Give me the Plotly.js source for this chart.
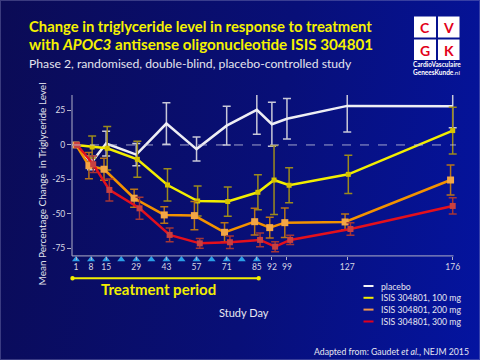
<!DOCTYPE html>
<html>
<head>
<meta charset="utf-8">
<script src="https://cdn.plot.ly/plotly-3.0.1.min.js"></script>
<style>
  html, body { margin: 0; padding: 0; }
  #wrap { position: relative; width: 480px; height: 360px;
    background: linear-gradient(100deg, #0b0b55 0%, #080f78 55%, #0414a0 100%); }
  #chart { position: absolute; left: 0; top: 0; width: 480px; height: 360px; }
  #frame { position: absolute; left: 0; top: 0; width: 478px; height: 358px;
    border: 1px solid rgba(150,150,200,0.35); pointer-events: none; }
</style>
</head>
<body>
<div id="wrap"><div id="chart"></div><div id="frame"></div></div>
<script>
// ---- data ----
const tickDays   = [1, 8, 15, 29, 43, 57, 71, 85, 92, 99, 127, 176];
const yTicks     = [25, 0, -25, -50, -75];
const dosingDays = [1, 8, 15, 22, 29, 36, 43, 50, 57, 64, 71, 78, 85];

const placeboDays = [1, 8, 15, 29, 43, 57, 71, 85, 92, 99, 127, 176];
const placeboMean = [0, -13, 1, -7, 15.5, -3, 14, 25.5, 15, 19, 28.3, 28];
const placeboErr  = [0, 5, 9, 8, 15, 8.7, 14, 17.8, 16, 14.7, 19, 15.5];

const dose100Days = [1, 8.5, 15.5, 29.5, 43.5, 57.5, 71.5, 85.5, 93, 100, 127.5, 176];
const dose100Mean = [0, -1.5, -2.4, -10.4, -29, -40.6, -41, -34.3, -25.4, -29.2, -21.3, 10.4];
const dose100Err  = [0, 8, 15.7, 13, 11.7, 10.9, 10.6, 12.7, 25, 12.7, 13.8, 17];

const dose200Days = [1, 7, 14, 28, 42, 56, 70, 84, 91, 98, 126, 175];
const dose200Mean = [0, -15, -17.6, -38.6, -50.7, -51.2, -63.3, -55.6, -59.9, -56.3, -55.8, -25.4];
const dose200Err  = [0, 9.5, 8, 6.5, 6, 10.3, 7, 9.7, 7.5, 10.7, 5.8, 10.9];

const dose300Days = [1.5, 9, 16.5, 30.5, 44.5, 58.5, 72.5, 86.5, 93.5, 100.5, 128.5, 176];
const dose300Mean = [0, -14, -32.6, -45.9, -65.2, -71.3, -70.5, -68.8, -73.7, -68.8, -60.9, -44.2];
const dose300Err  = [0, 6, 8, 8, 5, 3.5, 4.5, 5, 3.6, 3.4, 4.5, 5.9];

const seriesNames = ['placebo', 'ISIS 304801, 100 mg', 'ISIS 304801, 200 mg', 'ISIS 304801, 300 mg'];

// ---- layout geometry ----
const ML = 72, MR = 19, MT = 95, MB = 100, W = 480, H = 360;
const PW = W - ML - MR, PH = H - MT - MB;
const xp = px => (px - ML) / PW;
const yp = py => (H - MB - py) / PH;
const Y_TOP = 36.2, Y_AXIS = -80.4, Y_BOTTOM = Y_TOP - PH / 1.38;

const FONT = 'Lato, "Open Sans", sans-serif';

function series(x, y, err, name, lineColor, errColor, marker) {
  const t = {
    type: 'scatter', mode: marker ? 'lines+markers' : 'lines',
    x: x, y: y, name: name, showlegend: false, hoverinfo: 'skip',
    line: { color: lineColor, width: 2.5 },
    error_y: { type: 'data', array: err, visible: true, color: errColor, thickness: 1.5, width: 4 }
  };
  if (marker) t.marker = marker;
  return t;
}

const traces = [
  series(placeboDays, placeboMean, placeboErr, seriesNames[0], '#eeeef4', '#c8c8d8', null),
  series(dose100Days, dose100Mean, dose100Err, seriesNames[1], '#f2ee00', '#9c8a1c',
         { symbol: 'square', size: 5, color: '#d8c400' }),
  series(dose200Days, dose200Mean, dose200Err, seriesNames[2], '#f39200', '#b87418',
         { symbol: 'square', size: 7, color: '#f3a646' }),
  series(dose300Days, dose300Mean, dose300Err, seriesNames[3], '#e4101c', '#a43636',
         { symbol: 'square', size: 6, color: '#c84040' }),
  { type: 'scatter', mode: 'markers', x: dosingDays, y: dosingDays.map(() => -83),
    cliponaxis: false, showlegend: false, hoverinfo: 'skip',
    marker: { symbol: 'triangle-up', size: 7, color: '#2c9ee6' } }
];

const shapes = [];
const annotations = [];
function ann(px, py, text, font, opts) {
  annotations.push(Object.assign({ xref: 'paper', yref: 'paper', x: xp(px), y: yp(py),
    xanchor: 'center', yanchor: 'middle', showarrow: false, text: text, font: font }, opts || {}));
}
function rectPx(x0, y0, x1, y1, color) {
  shapes.push({ type: 'rect', xref: 'paper', yref: 'paper', x0: xp(x0), x1: xp(x1),
    y0: yp(y1), y1: yp(y0), fillcolor: color, line: { width: 0 } });
}

// zero dashed line
shapes.push({ type: 'line', xref: 'paper', yref: 'y', x0: 0, x1: xp(456), y0: 0, y1: 0,
  line: { color: 'rgba(200,200,225,0.8)', width: 1, dash: 'dash' } });
// axis lines
shapes.push({ type: 'line', xref: 'paper', yref: 'y', x0: 0, x1: xp(453.5), y0: Y_AXIS, y1: Y_AXIS,
  line: { color: '#b0b0c8', width: 1 } });
shapes.push({ type: 'line', xref: 'paper', yref: 'y', x0: 0, x1: 0, y0: Y_AXIS, y1: Y_TOP,
  line: { color: '#b0b0c8', width: 1 } });

// treatment period bar
shapes.push({ type: 'line', xref: 'paper', yref: 'paper', x0: xp(72.5), x1: xp(258.7),
  y0: yp(278.3), y1: yp(278.3), line: { color: '#f2ee00', width: 2 } });
[72.5, 258.7].forEach(cx => shapes.push({ type: 'circle', xref: 'paper', yref: 'paper',
  x0: xp(cx - 2.2), x1: xp(cx + 2.2), y0: yp(278.3 + 2.2), y1: yp(278.3 - 2.2),
  fillcolor: '#f2ee00', line: { width: 0 } }));
ann(158, 289, '<b>Treatment period</b>', { family: FONT, size: 15, color: '#f2ee00' });

// Study Day
ann(244, 312, 'Study Day', { family: FONT, size: 11, color: '#e8e8f0' });

// y axis title
ann(41, 184.5, 'Mean Percentage Change&nbsp; in Triglyceride Level',
  { family: FONT, size: 10, color: '#e0e0ea' }, { textangle: -90 });

// legend
const legendColors = ['#f4f4f8', '#f2ee00', '#f0964a', '#e0001c'];
const legendY = [286, 297.8, 309.6, 321.5];
seriesNames.forEach((n, i) => {
  shapes.push({ type: 'line', xref: 'paper', yref: 'paper', x0: xp(363.5), x1: xp(373.5),
    y0: yp(legendY[i]), y1: yp(legendY[i]), line: { color: legendColors[i], width: 2 } });
  ann(379, legendY[i], n, { family: FONT, size: 8.7, color: '#e6e6f0' }, { xanchor: 'left' });
});

// source
ann(471, 351, 'Adapted from: Gaudet <i>et al.</i>, NEJM 2015',
  { family: FONT, size: 8.7, color: '#e6e6f0' }, { xanchor: 'right' });

// titles
ann(27, 26, '<b>Change in triglyceride level in response to treatment</b>',
  { family: FONT, size: 14.8, color: '#f5f200' }, { xanchor: 'left' });
ann(27, 44, '<b>with <i>APOC3</i> antisense oligonucleotide ISIS 304801</b>',
  { family: FONT, size: 15.2, color: '#f5f200' }, { xanchor: 'left' });
ann(27, 63, 'Phase 2, randomised, double-blind, placebo-controlled study',
  { family: FONT, size: 12.2, color: '#e4e4ee' }, { xanchor: 'left' });

// logo
const logoBoxes = [[414, 16.5, 436, 37.5, 'C'], [438, 16.5, 459.5, 37.5, 'V'],
                   [414, 39.5, 436, 60, 'G'], [438, 39.5, 459.5, 60, 'K']];
logoBoxes.forEach(b => {
  rectPx(b[0], b[1], b[2], b[3], '#ffffff');
  ann((b[0] + b[2]) / 2, (b[1] + b[3]) / 2 + 0.5, '<b>' + b[4] + '</b>',
    { family: FONT, size: 14, color: '#e2001a' });
});
ann(436.5, 65, '<b>CardioVasculaire</b>', { family: FONT, size: 6.5, color: '#ffffff' });
ann(436.5, 72.5, '<b>GeneesKunde</b>.nl', { family: FONT, size: 6.5, color: '#ffffff' });

const layout = {
  width: W, height: H,
  margin: { l: ML, r: MR, t: MT, b: MB, pad: 0 },
  paper_bgcolor: 'rgba(0,0,0,0)', plot_bgcolor: 'rgba(0,0,0,0)',
  showlegend: false,
  font: { family: FONT, color: '#d8d8e4' },
  xaxis: {
    range: [-0.86, -0.86 + PW / 2.1526], showgrid: false, zeroline: false, showline: false,
    tickmode: 'array', tickvals: tickDays, ticktext: tickDays.map(String),
    ticks: 'inside', ticklen: 3.5, tickcolor: '#b0b0c8', tickwidth: 1,
    tickfont: { family: FONT, size: 8.5, color: '#d8d8e4' }, fixedrange: true
  },
  yaxis: {
    range: [Y_BOTTOM, Y_TOP], showgrid: false, zeroline: false, showline: false,
    tickmode: 'array', tickvals: yTicks, ticktext: yTicks.map(String),
    ticks: 'outside', ticklen: 4, tickcolor: '#b0b0c8', tickwidth: 1,
    tickfont: { family: FONT, size: 8.5, color: '#d8d8e4' }, fixedrange: true
  },
  shapes: shapes, annotations: annotations
};

Plotly.newPlot('chart', traces, layout, { staticPlot: true, displayModeBar: false });
</script>
</body>
</html>
